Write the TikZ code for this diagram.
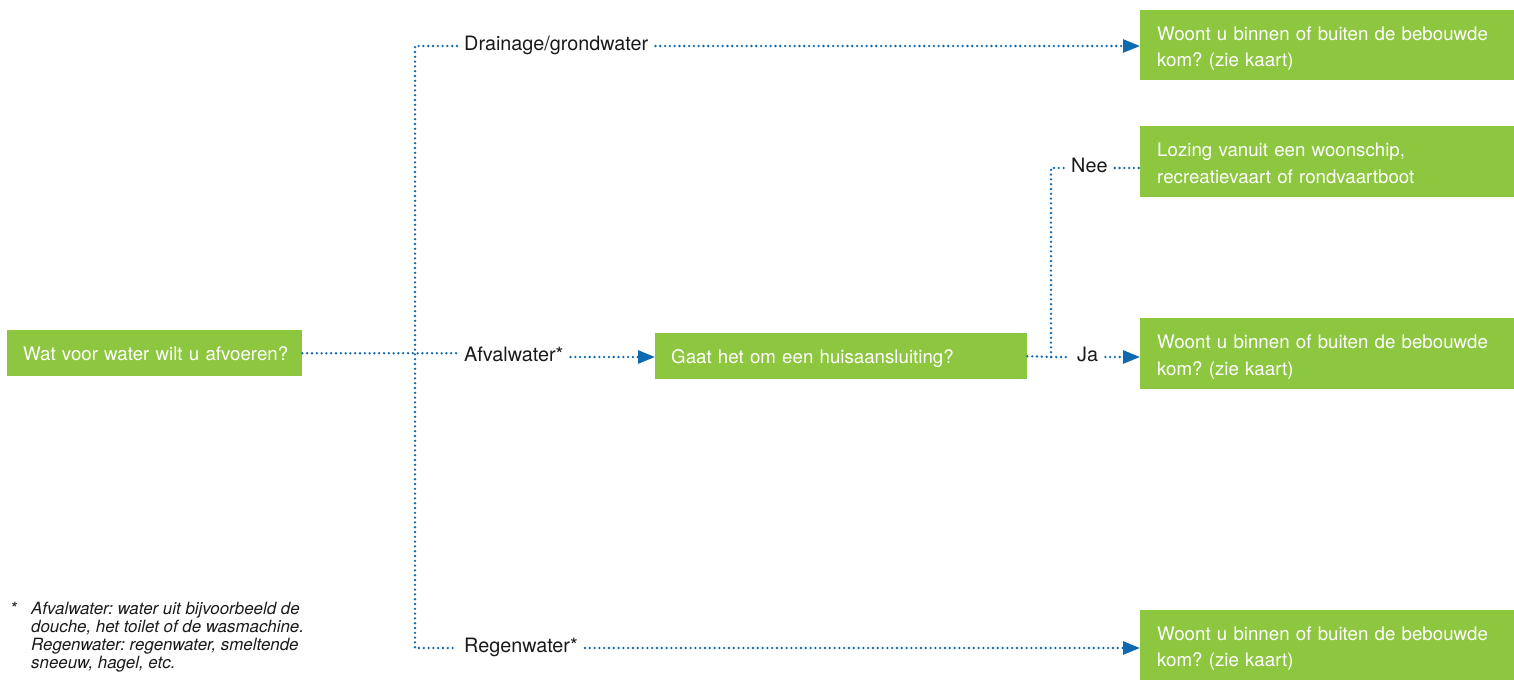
\documentclass[tikz,border=0pt]{standalone}
\usepackage{fontspec}
\setmainfont{TeX Gyre Heros}
\usetikzlibrary{arrows.meta}
\definecolor{grn}{HTML}{8DC63F}
\definecolor{blu}{HTML}{0D6AAE}
\definecolor{ink}{HTML}{1A1A1A}
\frenchspacing
\newcommand{\topst}{\rule{0pt}{24pt}}
\newcommand{\botst}{\rule[-7.8pt]{0pt}{0pt}}
\begin{document}
\begin{tikzpicture}[x=1pt,y=-1pt,
  box/.style={fill=grn,text=white,anchor=north west,inner xsep=16pt,inner ysep=0pt,align=left,
    font=\fontsize{18.7}{26.5}\selectfont},
  lbl/.style={text=ink,inner xsep=7pt,inner ysep=2pt,font=\fontsize{19.8}{22}\selectfont},
  dot/.style={blu,line width=2.6pt,line cap=round,dash pattern=on 0pt off 4.8pt},
  arr/.style={-{Triangle[length=17pt,width=13pt]}}]
\useasboundingbox (0,0) rectangle (1514,680);
% boxes
\node[box,text width=263pt,minimum height=46pt] (q) at (7,330) {\rule{0pt}{22pt}\mbox{Wat voor water wilt u afvoeren?}\botst};
\node[box,text width=340pt,minimum height=46pt] (h) at (655,333) {\rule{0pt}{22pt}Gaat het om een huisaansluiting?\botst};
\node[box,text width=340pt,minimum height=70pt,inner xsep=17pt] (w1) at (1140,10) {\topst Woont u binnen of buiten de bebouwde\\kom? (zie kaart)\botst};
\node[box,text width=340pt,minimum height=71pt,inner xsep=17pt] (lz) at (1140,126) {\topst Lozing vanuit een woonschip,\\recreatievaart of rondvaartboot\botst};
\node[box,text width=340pt,minimum height=71pt,inner xsep=17pt] (w2) at (1140,318) {\topst Woont u binnen of buiten de bebouwde\\kom? (zie kaart)\botst};
\node[box,text width=340pt,minimum height=70pt,inner xsep=17pt] (w3) at (1140,610) {\topst Woont u binnen of buiten de bebouwde\\kom? (zie kaart)\botst};
% labels
\node[lbl,anchor=west] (dr) at (457,46) {\strut Drainage/grondwater};
\node[lbl,anchor=west] (af) at (457,357) {\strut Afvalwater*};
\node[lbl,anchor=west] (rg) at (457,648) {\strut Regenwater*};
\node[lbl,anchor=west] (ja) at (1070,357) {\strut Ja};
\node[lbl,anchor=west] (ne) at (1064,168) {\strut Nee};
% junctions
\coordinate (vt) at (415,46);
\coordinate (vb) at (415,648);
\coordinate (jn) at (1051,357);
% connectors
\draw[dot] (q.east) -- (q.east -| af.west);
\draw[dot] (dr.west) -- (vt) -- (vb) -- (rg.west);
\draw[dot,arr] (dr.east) -- (dr.east -| w1.west);
\draw[dot,arr] (af.east) -- (af.east -| h.west);
\draw[dot,arr] (rg.east) -- (rg.east -| w3.west);
\draw[dot] (h.east) -- (jn) -- (ja.west);
\draw[dot,arr] (ja.east) -- (ja.east -| w2.west);
\draw[dot] (jn) |- (ne.west);
\draw[dot] (ne.east) -- (ne.east -| lz.west);
% footnote
\node[anchor=north west,inner sep=0pt,align=left,text=ink,font=\itshape\fontsize{16.9}{18}\selectfont] (fn) at (10,602)
 {\makebox[21pt][l]{*}Afvalwater: water uit bijvoorbeeld de\\
  \hspace*{21pt}douche, het toilet of de wasmachine.\\
  \hspace*{21pt}Regenwater: regenwater, smeltende\\
  \hspace*{21pt}sneeuw, hagel, etc.};
\end{tikzpicture}
\end{document}
